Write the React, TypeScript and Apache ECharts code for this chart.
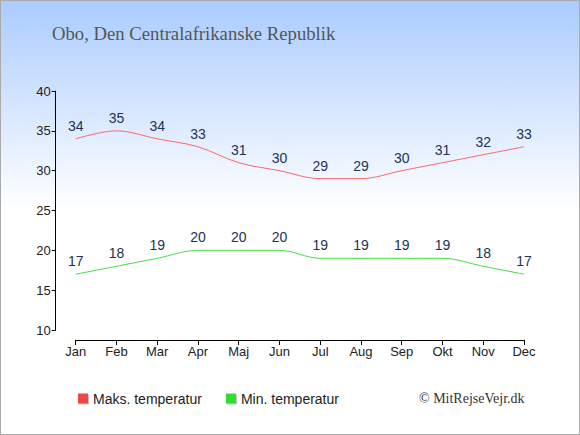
import React, { useEffect, useRef } from "react";
import * as echarts from "echarts";

const months = ["Jan", "Feb", "Mar", "Apr", "Maj", "Jun", "Jul", "Aug", "Sep", "Okt", "Nov", "Dec"];
const maxTemp = [34, 35, 34, 33, 31, 30, 29, 29, 30, 31, 32, 33];
const minTemp = [17, 18, 19, 20, 20, 20, 19, 19, 19, 19, 18, 17];
const maxName = "Maks. temperatur";
const minName = "Min. temperatur";
const titleText = "Obo, Den Centralafrikanske Republik";
const copyright = "© MitRejseVejr.dk";

export default function App() {
  const ref = useRef<HTMLDivElement>(null);
  useEffect(() => {
    document.body.style.margin = "0";
    const chart = echarts.init(ref.current!, null, { renderer: "svg" });
    const labelStyle = {
      show: true,
      position: "top" as const,
      distance: 6,
      color: "#223355",
      fontSize: 14,
      fontFamily: "Liberation Sans, Arial, sans-serif",
    };
    chart.setOption({
      animation: false,
      title: {
        text: titleText,
        left: 51,
        top: 23,
        padding: 0,
        textStyle: {
          fontFamily: "Liberation Serif, serif",
          fontSize: 18.7,
          fontWeight: "normal",
          color: "#555555",
        },
      },
      graphic: [
        {
          type: "text",
          left: 418,
          top: 390,
          style: {
            text: copyright,
            fontFamily: "Liberation Serif, serif",
            fontSize: 14,
            fill: "#333333",
          },
        },
      ],
      legend: {
        left: 77,
        top: 388.5,
        icon: "rect",
        itemWidth: 10,
        itemHeight: 10,
        itemGap: 24,
        padding: [2, 0, 2, 0],
        textStyle: {
          fontSize: 14,
          color: "#222222",
          fontFamily: "Liberation Sans, Arial, sans-serif",
        },
        data: [
          { name: maxName, itemStyle: { color: "#ee4444", shadowColor: "rgba(0,0,0,0.25)", shadowOffsetX: 1, shadowOffsetY: 1 } },
          { name: minName, itemStyle: { color: "#33dd33", shadowColor: "rgba(0,0,0,0.25)", shadowOffsetX: 1, shadowOffsetY: 1 } },
        ],
      },
      grid: { left: 74.7, right: 55, top: 90, bottom: 104 },
      xAxis: {
        type: "category",
        data: months,
        boundaryGap: false,
        offset: 10,
        axisLine: { lineStyle: { color: "#000000", width: 1 } },
        axisTick: { show: true, length: 5, lineStyle: { color: "#000000" } },
        axisLabel: {
          color: "#222222",
          fontSize: 13,
          margin: 5,
          fontFamily: "Liberation Sans, Arial, sans-serif",
        },
        splitLine: { show: false },
      },
      yAxis: {
        type: "value",
        min: 10,
        max: 40,
        interval: 5,
        offset: 20,
        axisLine: { show: true, lineStyle: { color: "#000000", width: 1 } },
        axisTick: { show: true, length: 4, lineStyle: { color: "#000000" } },
        axisLabel: {
          color: "#222222",
          fontSize: 13,
          margin: 5,
          fontFamily: "Liberation Sans, Arial, sans-serif",
        },
        splitLine: { show: false },
      },
      series: [
        {
          name: maxName,
          type: "line",
          data: maxTemp,
          smooth: 0.35,
          symbol: "circle",
          symbolSize: 0,
          showSymbol: true,
          color: "#ee4444",
          lineStyle: { color: "#ff6666", width: 1 },
          label: labelStyle,
        },
        {
          name: minName,
          type: "line",
          data: minTemp,
          smooth: 0.35,
          symbol: "circle",
          symbolSize: 0,
          showSymbol: true,
          color: "#33dd33",
          lineStyle: { color: "#44dd44", width: 1 },
          label: labelStyle,
        },
      ],
    });
    return () => chart.dispose();
  }, []);
  return (
    <div
      ref={ref}
      style={{
        width: 580,
        height: 435,
        boxSizing: "border-box",
        border: "1px solid #aaaaaa",
        background: "linear-gradient(to bottom, #aaccff 0%, #ffffff 48%, #ffffff 100%)",
      }}
    />
  );
}
